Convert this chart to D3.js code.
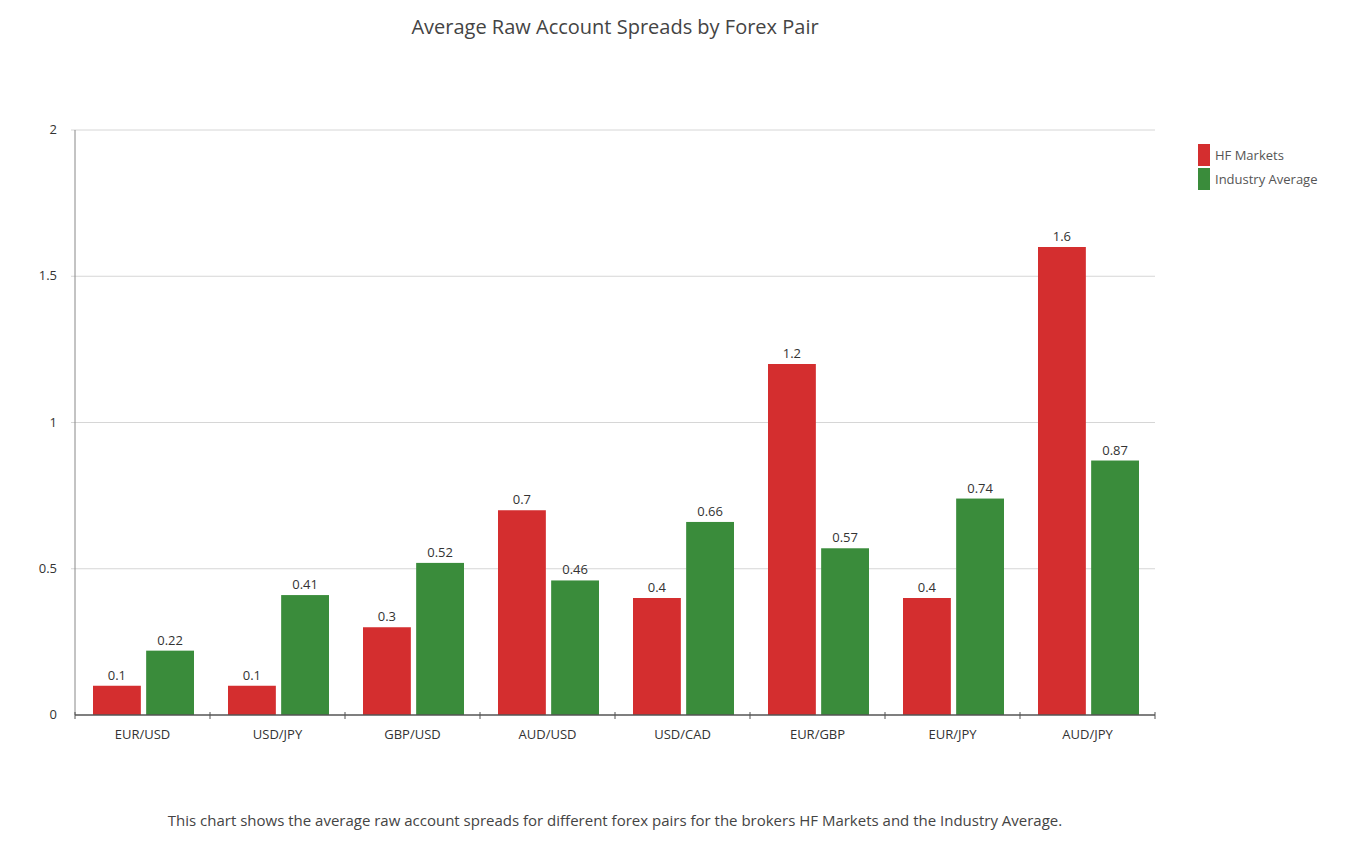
<!DOCTYPE html>
<html>
<head>
<meta charset="utf-8">
<script src="https://cdn.jsdelivr.net/npm/d3@7"></script>
<style>
  body { margin: 0; background: #fff; font-family: "Open Sans", sans-serif; }
  text { fill: #333; }
</style>
</head>
<body>
<svg id="chart" width="1352" height="863"></svg>
<script>
// chart data
const pairs = ['EUR/USD', 'USD/JPY', 'GBP/USD', 'AUD/USD', 'USD/CAD', 'EUR/GBP', 'EUR/JPY', 'AUD/JPY'];
const hfMarkets = [0.1, 0.1, 0.3, 0.7, 0.4, 1.2, 0.4, 1.6];
const industryAvg = [0.22, 0.41, 0.52, 0.46, 0.66, 0.57, 0.74, 0.87];
const seriesNames = ['HF Markets', 'Industry Average'];
const colors = ['#d42e2f', '#3a8c3b'];
const yTicks = [0, 0.5, 1, 1.5, 2];

const svg = d3.select('#chart');
const plotLeft = 75, plotRight = 1155, plotTop = 130, plotBottom = 715;

const x = d3.scaleBand().domain(pairs).range([plotLeft, plotRight]);
const x1 = d3.scaleBand().domain([0, 1]).range([18, 119]).paddingInner(0.1);
const y = d3.scaleLinear().domain([0, 2]).range([plotBottom, plotTop]);

svg.append('text')
  .attr('x', 615).attr('y', 34)
  .attr('text-anchor', 'middle')
  .style('font-size', '20px')
  .style('fill', '#444')
  .text('Average Raw Account Spreads by Forex Pair');

// gridlines
svg.append('g').selectAll('line')
  .data(yTicks.slice(1))
  .enter().append('line')
  .attr('x1', plotLeft - 4).attr('x2', plotRight)
  .attr('y1', d => y(d)).attr('y2', d => y(d))
  .attr('stroke', '#d6d6d6');

svg.append('g').selectAll('text')
  .data(yTicks)
  .enter().append('text')
  .attr('x', 57).attr('y', d => y(d) + 4)
  .attr('text-anchor', 'end')
  .style('font-size', '13px')
  .text(d => d);

svg.append('line')
  .attr('x1', plotLeft).attr('x2', plotLeft).attr('y1', plotTop).attr('y2', plotBottom)
  .attr('stroke', '#888');

const groups = svg.append('g').selectAll('g')
  .data(pairs)
  .enter().append('g')
  .attr('transform', d => `translate(${x(d)},0)`);

groups.each(function (p, i) {
  const vals = [hfMarkets[i], industryAvg[i]];
  const g = d3.select(this);
  g.selectAll('rect').data(vals).enter().append('rect')
    .attr('x', (v, j) => x1(j))
    .attr('width', x1.bandwidth())
    .attr('y', v => y(v))
    .attr('height', v => plotBottom - y(v))
    .attr('fill', (v, j) => colors[j]);
  g.selectAll('text.lbl').data(vals).enter().append('text')
    .attr('class', 'lbl')
    .attr('x', (v, j) => x1(j) + x1.bandwidth() / 2)
    .attr('y', v => y(v) - 6)
    .attr('text-anchor', 'middle')
    .style('font-size', '13px')
    .text(v => v);
});

// x axis
const xAxis = svg.append('g');
xAxis.append('line')
  .attr('x1', plotLeft).attr('x2', plotRight).attr('y1', plotBottom).attr('y2', plotBottom)
  .attr('stroke', '#555').attr('stroke-width', 1.5);
xAxis.selectAll('line.tick')
  .data(pairs.map(p => x(p)).concat([plotRight]))
  .enter().append('line')
  .attr('class', 'tick')
  .attr('x1', d => d).attr('x2', d => d)
  .attr('y1', plotBottom - 3).attr('y2', plotBottom + 4)
  .attr('stroke', '#555');
xAxis.selectAll('text')
  .data(pairs)
  .enter().append('text')
  .attr('x', d => x(d) + x.bandwidth() / 2)
  .attr('y', plotBottom + 24)
  .attr('text-anchor', 'middle')
  .style('font-size', '13px')
  .text(d => d);

// legend
const legend = svg.append('g').selectAll('g')
  .data(seriesNames)
  .enter().append('g')
  .attr('transform', (d, i) => `translate(1198,${144 + i * 24})`);
legend.append('rect')
  .attr('width', 12).attr('height', 22)
  .attr('fill', (d, i) => colors[i]);
legend.append('text')
  .attr('x', 17).attr('y', 16)
  .style('font-size', '13px')
  .style('fill', '#555')
  .text(d => d);

svg.append('text')
  .attr('x', 615).attr('y', 826)
  .attr('text-anchor', 'middle')
  .style('font-size', '15px')
  .style('fill', '#444')
  .text('This chart shows the average raw account spreads for different forex pairs for the brokers HF Markets and the Industry Average.');
</script>
</body>
</html>
